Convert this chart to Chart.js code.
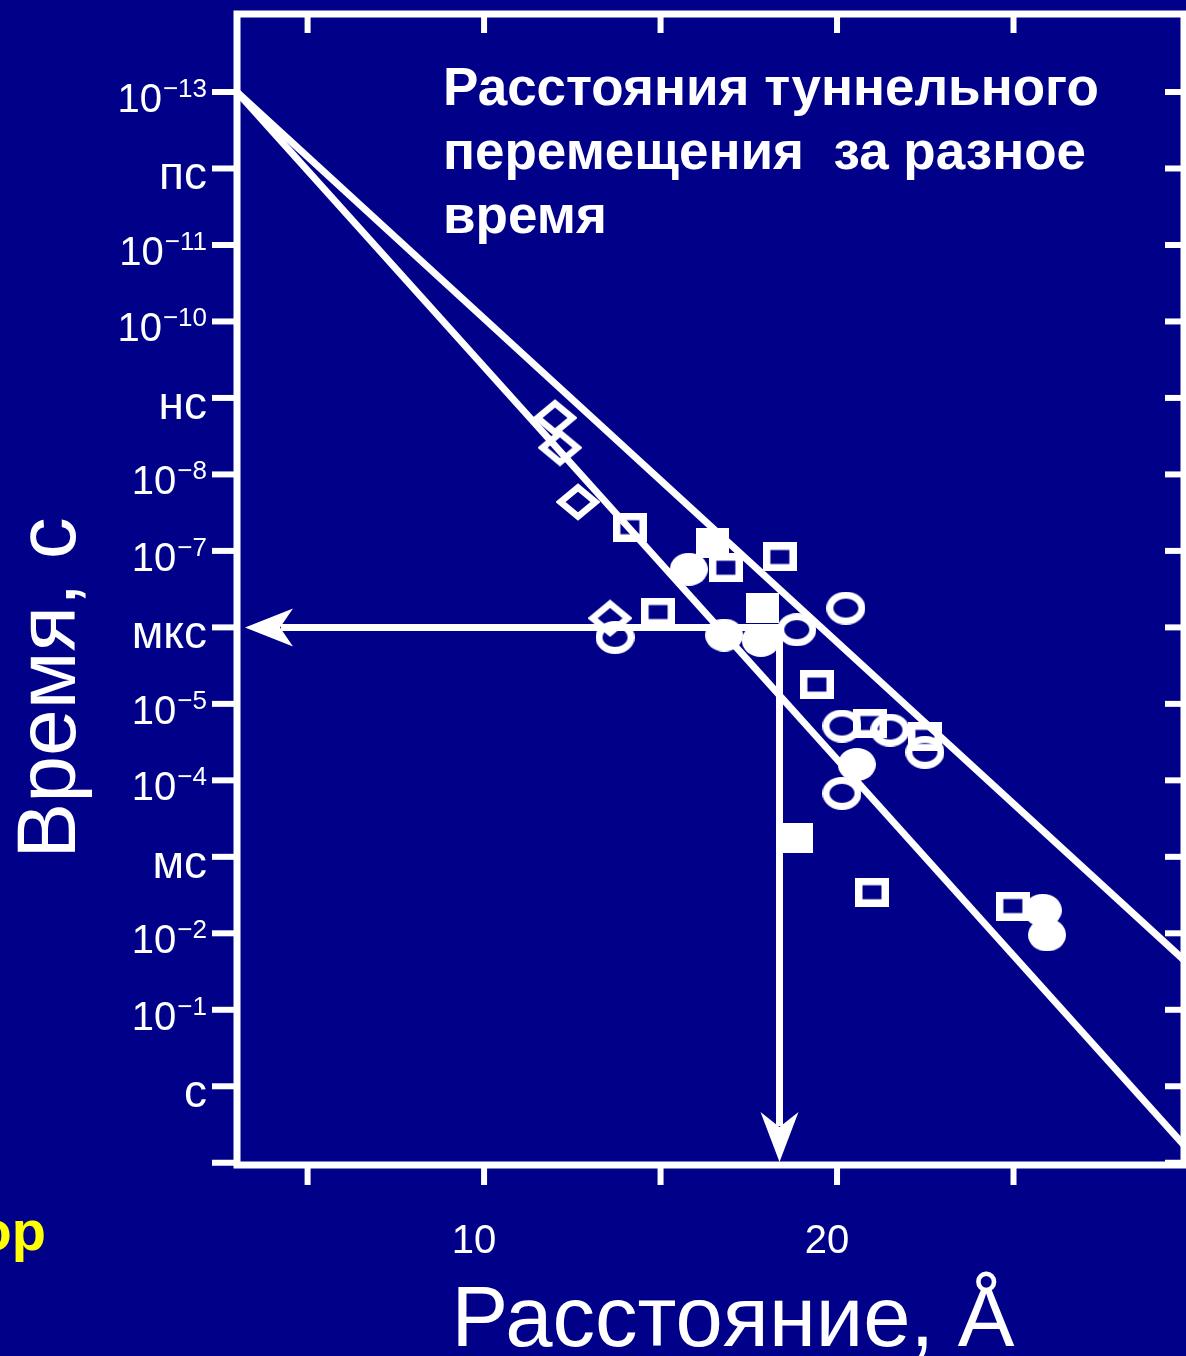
<!DOCTYPE html>
<html>
<head>
<meta charset="utf-8">
<script src="https://cdn.jsdelivr.net/npm/chart.js@4.4.0/dist/chart.umd.min.js"></script>
<style>
html, body { margin: 0; padding: 0; background: #000088; }
canvas { display: block; }
</style>
</head>
<body>
<canvas id="tunnelChart" width="1186" height="1356"></canvas>
<script>
// distances in Å, times in seconds
var diamondX = [12.01, 12.15, 12.66, 13.57];
var diamondT = [1.82e-9, 4.47e-9, 2.29e-8, 7.59e-7];

var openSqX = [14.13, 16.85, 18.38, 14.93, 19.43, 20.93, 22.49, 20.99, 24.98];
var openSqT = [4.9e-8, 1.66e-7, 1.2e-7, 6.3e-7, 5.6e-6, 1.78e-5, 2.7e-5, 2.9e-3, 4.4e-3];

var fillSqX = [16.48, 17.90, 18.86];
var fillSqT = [7.9e-8, 5.6e-7, 5.6e-4];

var openCircX = [13.71, 18.86, 20.25, 20.14, 21.50, 22.49, 20.14];
var openCircT = [1.35e-6, 1.07e-6, 5.6e-7, 1.95e-5, 2.2e-5, 4.3e-5, 1.48e-4];

var fillCircX = [15.80, 16.80, 17.84, 20.56, 25.83, 25.95];
var fillCircT = [1.74e-7, 1.26e-6, 1.48e-6, 6.2e-5, 5.0e-3, 1.05e-2];

// the two limiting lines
var lineX = [3, 29.83];
var upperLineT = [1e-13, 2.24e-2];
var lowerLineT = [1e-13, 5.9];

// arrows: 1 µs -> distance
var arrowDist = 18.37;
var arrowTime = 1e-6;

var xTickVals = [5, 10, 15, 20, 25];
var xTickLabels = ['', '10', '', '20', ''];
var yTickVals = [1e-13, 1e-12, 1e-11, 1e-10, 1e-9, 1e-8, 1e-7, 1e-6, 1e-5, 1e-4, 1e-3, 1e-2, 1e-1, 1, 10];
var yTickLabels = ['10^\u221213', 'пс', '10^\u221211', '10^\u221210', 'нс', '10^\u22128', '10^\u22127', 'мкс',
                   '10^\u22125', '10^\u22124', 'мс', '10^\u22122', '10^\u22121', 'с', ''];

var FONT = "'Liberation Sans', Arial, sans-serif";
var BG = '#000088';

function pts(xs, ys) {
    return xs.map(function (x, i) { return { x: x, y: ys[i] }; });
}

function marker(kind) {
    var c = document.createElement('canvas');
    var g;
    if (kind === 'openSq') {
        c.width = 34; c.height = 29; g = c.getContext('2d');
        g.strokeStyle = '#fff'; g.lineWidth = 7.5;
        g.strokeRect(3.75, 3.75, 34 - 7.5, 29 - 7.5);
    } else if (kind === 'fillSq') {
        c.width = 33; c.height = 30; g = c.getContext('2d');
        g.fillStyle = '#fff'; g.fillRect(0, 0, 33, 30);
    } else if (kind === 'diamond') {
        c.width = 44; c.height = 38; g = c.getContext('2d');
        g.strokeStyle = '#fff'; g.lineWidth = 6.5; g.lineJoin = 'miter';
        g.beginPath();
        g.moveTo(22, 4.5); g.lineTo(39.5, 19); g.lineTo(22, 33.5); g.lineTo(4.5, 19); g.closePath();
        g.stroke();
    } else if (kind === 'openCirc') {
        c.width = 39; c.height = 33; g = c.getContext('2d');
        g.strokeStyle = '#fff'; g.lineWidth = 7;
        g.beginPath(); g.ellipse(19.5, 16.5, 16, 13, 0, 0, Math.PI * 2); g.stroke();
    } else {
        c.width = 38; c.height = 33; g = c.getContext('2d');
        g.fillStyle = '#fff';
        g.beginPath(); g.ellipse(19, 16.5, 19, 16.5, 0, 0, Math.PI * 2); g.fill();
    }
    return c;
}

function seg(ctx, x1, y1, x2, y2) {
    ctx.beginPath(); ctx.moveTo(x1, y1); ctx.lineTo(x2, y2); ctx.stroke();
}

var framePlugin = {
    id: 'frame',
    beforeDraw: function (chart) {
        var ctx = chart.ctx;
        ctx.save();
        ctx.fillStyle = BG;
        ctx.fillRect(0, 0, chart.width, chart.height);
        ctx.restore();
    },
    afterDraw: function (chart) {
        var ctx = chart.ctx, a = chart.chartArea;
        var xs = chart.scales.x, ys = chart.scales.y;
        ctx.save();
        ctx.strokeStyle = '#fff';
        ctx.fillStyle = '#fff';

        // frame
        ctx.lineWidth = 7;
        ctx.strokeRect(a.left, a.top, a.right - a.left, a.bottom - a.top);

        // ticks
        ctx.lineWidth = 6;
        yTickVals.forEach(function (v) {
            var py = ys.getPixelForValue(v);
            seg(ctx, a.left - 25, py, a.left, py);
            seg(ctx, a.right - 19, py, a.right, py);
        });
        xTickVals.forEach(function (v) {
            var px = xs.getPixelForValue(v);
            seg(ctx, px, a.bottom, px, a.bottom + 20);
            seg(ctx, px, a.top, px, a.top + 19);
        });

        // arrows
        var ax = xs.getPixelForValue(arrowDist);
        var ay = ys.getPixelForValue(arrowTime);
        ctx.lineWidth = 7;
        var tipL = a.left + 8;
        seg(ctx, ax, ay, tipL + 36, ay);
        ctx.beginPath();
        ctx.moveTo(tipL, ay); ctx.lineTo(tipL + 48, ay - 19); ctx.lineTo(tipL + 35, ay);
        ctx.lineTo(tipL + 48, ay + 19); ctx.closePath(); ctx.fill();
        var tipB = a.bottom - 3;
        seg(ctx, ax, ay - 3.5, ax, tipB - 36);
        ctx.beginPath();
        ctx.moveTo(ax, tipB); ctx.lineTo(ax - 19, tipB - 50); ctx.lineTo(ax, tipB - 35);
        ctx.lineTo(ax + 19, tipB - 50); ctx.closePath(); ctx.fill();

        // y tick labels
        yTickVals.forEach(function (v, i) {
            var lab = yTickLabels[i];
            if (!lab) return;
            var py = ys.getPixelForValue(v);
            var right = a.left - 30;
            ctx.textAlign = 'right';
            ctx.textBaseline = 'alphabetic';
            if (lab.indexOf('^') >= 0) {
                var parts = lab.split('^');
                ctx.font = '26px ' + FONT;
                ctx.fillText(parts[1], right, py + 5);
                var w = ctx.measureText(parts[1]).width;
                ctx.font = '40px ' + FONT;
                ctx.fillText(parts[0], right - w - 1, py + 20);
            } else {
                ctx.font = '46px ' + FONT;
                ctx.fillText(lab, right, py + 21);
            }
        });

        // x tick labels
        ctx.font = '40px ' + FONT;
        ctx.textAlign = 'center';
        xTickVals.forEach(function (v, i) {
            if (!xTickLabels[i]) return;
            ctx.fillText(xTickLabels[i], xs.getPixelForValue(v) - 10, a.bottom + 88);
        });

        // axis titles
        ctx.font = '85px ' + FONT;
        ctx.fillText('Расстояние, Å', 733, 1346);
        ctx.save();
        ctx.translate(75, 688);
        ctx.rotate(-Math.PI / 2);
        ctx.font = '84px ' + FONT;
        ctx.textAlign = 'center';
        ctx.fillText('Время, с', 0, 0);
        ctx.restore();

        // caption inside the plot
        ctx.textAlign = 'left';
        ctx.font = 'bold 53px ' + FONT;
        ctx.fillText('Расстояния туннельного', 443, 105);
        ctx.fillText('перемещения  за разное', 443, 169);
        ctx.fillText('время', 443, 233);

        // clipped remnant of neighbouring slide text
        ctx.fillStyle = '#ffff00';
        ctx.font = 'bold 56px ' + FONT;
        ctx.textAlign = 'right';
        ctx.fillText('ор', 46, 1250);
        ctx.restore();
    }
};

var ctx = document.getElementById('tunnelChart').getContext('2d');

new Chart(ctx, {
    type: 'scatter',
    data: {
        datasets: [
            { data: pts(fillCircX, fillCircT), pointStyle: marker('fillCirc'), pointRadius: 12 },
            { data: pts(openCircX, openCircT), pointStyle: marker('openCirc'), pointRadius: 12 },
            { data: pts(fillSqX, fillSqT), pointStyle: marker('fillSq'), pointRadius: 12 },
            { data: pts(openSqX, openSqT), pointStyle: marker('openSq'), pointRadius: 12 },
            { data: pts(diamondX, diamondT), pointStyle: marker('diamond'), pointRadius: 12 },
            { data: pts(lineX, upperLineT), showLine: true, borderColor: '#fff', borderWidth: 7, pointRadius: 0 },
            { data: pts(lineX, lowerLineT), showLine: true, borderColor: '#fff', borderWidth: 7, pointRadius: 0 }
        ]
    },
    options: {
        responsive: false,
        animation: false,
        devicePixelRatio: 1,
        layout: { autoPadding: false, padding: { top: 14, right: 2, left: 0, bottom: 0 } },
        plugins: { legend: { display: false }, tooltip: { enabled: false } },
        scales: {
            x: {
                type: 'linear',
                min: 3,
                max: 29.83,
                ticks: { display: false },
                grid: { display: false },
                border: { display: false },
                afterFit: function (scale) { scale.height = 191; }
            },
            y: {
                type: 'logarithmic',
                reverse: true,
                min: 9.55e-15,
                max: 10.7,
                ticks: { display: false },
                grid: { display: false },
                border: { display: false },
                afterFit: function (scale) { scale.width = 237; }
            }
        }
    },
    plugins: [framePlugin]
});
</script>
</body>
</html>
